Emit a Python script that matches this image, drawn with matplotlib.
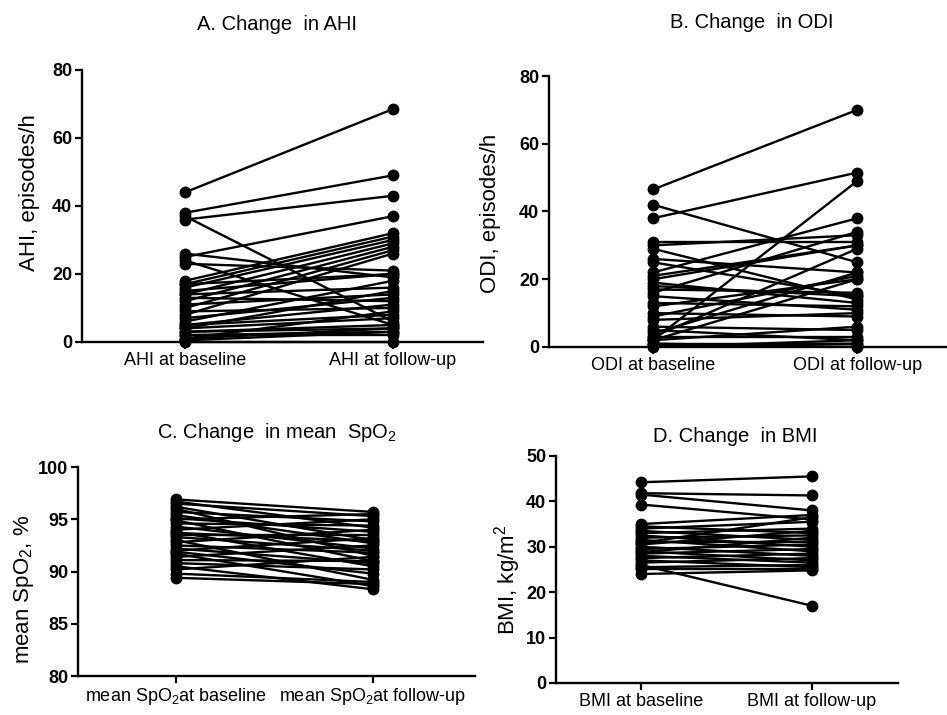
import matplotlib
matplotlib.use("Agg")
import matplotlib.pyplot as plt

plt.rcParams['font.family'] = ['Liberation Sans', 'DejaVu Sans']
plt.rcParams['mathtext.fontset'] = 'custom'
plt.rcParams['mathtext.rm'] = 'Liberation Sans'
plt.rcParams['mathtext.it'] = 'Liberation Sans:italic'
plt.rcParams['mathtext.bf'] = 'Liberation Sans:bold'

# Datos (baseline, follow-up)
ahi_base = [44, 38, 36, 37, 25, 26, 24, 23, 18, 17, 16, 15, 14, 13, 12, 11, 10, 9, 8, 7,
            6, 5, 5, 4, 4, 3, 3, 2, 2, 1, 1, 0.5, 0, 17, 14]
ahi_follow = [68.5, 49, 43, 6, 37, 19, 5, 21, 32, 31, 30, 20, 29, 12, 28, 14, 27, 10, 26, 13,
              18, 11, 8, 7, 15, 4, 5, 3, 2, 4, 9, 3, 0, 20, 16]

odi_base = [46.5, 42, 38, 2, 31, 30, 29, 26, 25, 22, 21, 19, 18, 17, 16, 15, 13, 12, 10, 9,
            6, 5, 4, 3, 3, 2, 1, 1, 0, 0.5, 2, 8, 20]
odi_follow = [70, 25, 51.5, 49, 31, 33, 14, 22, 15, 38, 30, 13, 15, 16, 34, 11, 12, 20, 9, 21,
              5, 2, 22, 29, 3, 6, 1, 0, 2, 1, 20, 10, 30]

spo2_base = [96.9, 96.7, 96.5, 96.2, 96.0, 95.7, 95.4, 95.1, 94.9, 94.6, 94.3, 94.0, 93.8, 93.5,
             93.3, 93.0, 92.8, 92.5, 92.2, 92.0, 91.7, 91.4, 91.1, 90.8, 90.5, 90.2, 89.8, 89.4,
             95.0, 93.7, 91.9]
spo2_follow = [95.7, 94.2, 95.3, 93.0, 91.5, 94.8, 92.7, 93.8, 91.0, 94.4, 92.2, 95.0, 90.5, 93.5,
               92.0, 89.2, 94.0, 91.8, 90.8, 93.2, 88.6, 92.5, 91.0, 90.2, 88.3, 91.4, 89.0, 88.8,
               95.5, 92.9, 89.8]

bmi_base = [44.2, 41.8, 41.5, 39.3, 35.0, 34.5, 34.0, 33.5, 33.0, 32.5, 32.0, 31.5, 31.0, 30.5,
            30.0, 29.5, 29.0, 28.5, 28.0, 27.5, 27.0, 26.5, 26.0, 25.5, 25.0, 24.0, 30.8, 28.8]
bmi_follow = [45.5, 41.3, 38.0, 36.0, 37.0, 33.0, 35.5, 31.5, 34.0, 30.0, 32.5, 29.0, 31.0, 33.5,
              28.0, 30.5, 27.0, 29.5, 26.5, 28.5, 25.5, 27.5, 17.0, 26.0, 25.0, 24.8, 36.5, 32.0]

fig = plt.figure(figsize=(9.47, 7.15), dpi=100)

paneles = [
    # rect, base, follow, ylim, yticks, titulo, ylabel, xlabels, xlim, pos titulo, pos ylabel
    ([0.0866, 0.5217, 0.4234, 0.3804], ahi_base, ahi_follow, (0, 80), [0, 20, 40, 60, 80],
     'A. Change  in AHI', 'AHI, episodes/h', ['AHI at baseline', 'AHI at follow-up'],
     (-0.495, 1.433), (277, 25), (30, 193)),
    ([0.5797, 0.5147, 0.4203, 0.3790], odi_base, odi_follow, (0, 80), [0, 20, 40, 60, 80],
     'B. Change  in ODI', 'ODI, episodes/h', ['ODI at baseline', 'ODI at follow-up'],
     (-0.51, 1.44), (752, 22), (490, 213)),
    ([0.0824, 0.0545, 0.4192, 0.2923], spo2_base, spo2_follow, (80, 100), [80, 85, 90, 95, 100],
     'C. Change  in mean  SpO$_2$', 'mean SpO$_2$, %',
     ['mean SpO$_2$at baseline', 'mean SpO$_2$at follow-up'],
     (-0.497, 1.518), (277, 433), (24, 589)),
    ([0.5871, 0.0448, 0.3612, 0.3175], bmi_base, bmi_follow, (0, 50), [0, 10, 20, 30, 40, 50],
     'D. Change  in BMI', 'BMI, kg/m$^2$', ['BMI at baseline', 'BMI at follow-up'],
     (-0.497, 1.503), (735, 436), (508, 580)),
]

for rect, base, follow, ylim, yticks, titulo, ylabel, xlabels, xlim, tpos, lpos in paneles:
    ax = fig.add_axes(rect)
    for b, f in zip(base, follow):
        ax.plot([0, 1], [b, f], color='black', lw=1.7, marker='o', ms=7.5,
                clip_on=False, solid_capstyle='round')
    ax.set_xlim(*xlim)
    ax.set_ylim(*ylim)
    ax.set_yticks(yticks)
    ax.set_xticks([0, 1])
    ax.set_xticklabels(xlabels, fontsize=13)
    for lab in ax.get_yticklabels():
        lab.set_fontweight('bold')
        lab.set_fontsize(13)
    ax.spines['top'].set_visible(False)
    ax.spines['right'].set_visible(False)
    ax.spines['left'].set_linewidth(1.7)
    ax.spines['bottom'].set_linewidth(1.7)
    ax.tick_params(width=1.6, length=5, pad=2)
    fig.text(tpos[0] / 947, 1 - tpos[1] / 715, titulo, ha='center', va='center', fontsize=14.5)
    fig.text(lpos[0] / 947, 1 - lpos[1] / 715, ylabel, ha='center', va='center',
             rotation=90, fontsize=16)

plt.savefig('out.png', dpi=100)
